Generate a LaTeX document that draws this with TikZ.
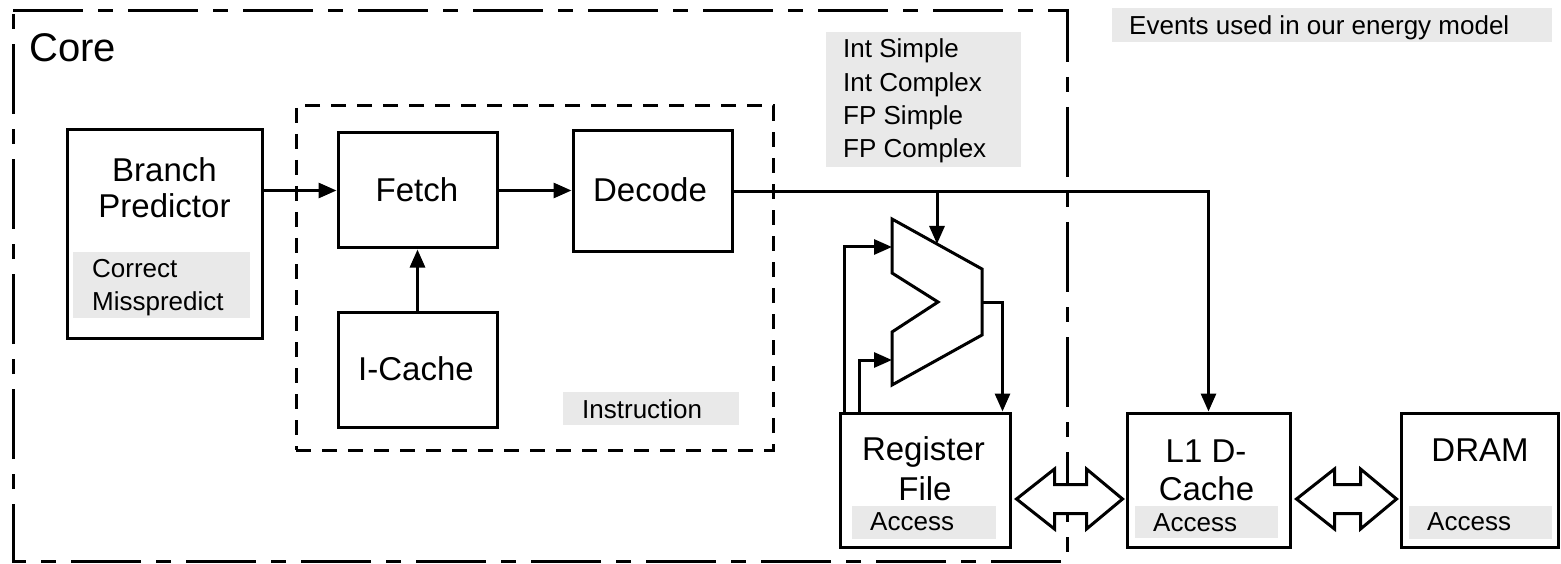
\documentclass[tikz,border=0pt]{standalone}
\usepackage{fontspec}
\setmainfont{Liberation Sans}
\usetikzlibrary{arrows.meta,calc}
\definecolor{evgray}{RGB}{233,233,233}
\newcommand{\mybigfont}{\fontsize{33}{38}\selectfont}
\newcommand{\mysmallfont}{\fontsize{26}{31}\selectfont}
\newcommand{\mycorefont}{\fontsize{40}{46}\selectfont}
\newcommand{\fatarr}[3]{%
  \coordinate (#3-l) at ($(#1.east)+(5,19)$);
  \coordinate (#3-r) at ($(#2.west)+(-3,19)$);
  \draw[fat] (#3-l) -- ++(38,-30) -- ++(0,15.5) -- ($(#3-r)+(-36,-14.5)$) -- ++(0,-15.5)
    -- (#3-r) -- ++(-36,30) -- ++(0,-15.5) -- ($(#3-l)+(38,14.5)$) -- ++(0,15.5) -- cycle;}
\begin{document}
\begin{tikzpicture}[x=1pt,y=-1pt,
  box/.style={draw, line width=3pt, fill=white, inner sep=0pt},
  graybox/.style={fill=evgray, draw=none, inner sep=0pt},
  tb/.style={inner sep=0pt, font=\mybigfont},
  ts/.style={inner sep=0pt, font=\mysmallfont},
  arr/.style={line width=3pt, -{Triangle[length=18pt,width=15pt]}},
  fat/.style={line width=3pt, fill=white, line join=miter},
  coredash/.style={line width=3pt, dash pattern=on 70pt off 15pt on 15pt off 15pt},
  instrdash/.style={draw, line width=3pt, dash pattern=on 15pt off 11pt, inner sep=0pt}]
\useasboundingbox (0,0) rectangle (1561,564);

% Core border
\draw[coredash] (13,11) -- (1067,11) -- (1067,561) -- (13,561) -- cycle;
\node[ts, font=\mycorefont, anchor=base west] (corelbl) at (29,62) {Core};

% Instruction dashed box
\node[instrdash, minimum width=477, minimum height=344] (instr) at (534.5,278) {};

% Event legend
\node[graybox, minimum width=440, minimum height=34] (evg) at (1332,25) {};
\node[ts, anchor=base west] (evt) at (1129,35) {Events used in our energy model};

\node[graybox, minimum width=195, minimum height=135] (aluev) at (923.5,99.5) {};
\node[ts, anchor=base west] (ae1) at (843,58) {Int Simple};
\node[ts, anchor=base west] (ae2) at (843,92) {Int Complex};
\node[ts, anchor=base west] (ae3) at (843,125) {FP Simple};
\node[ts, anchor=base west] (ae4) at (843,158) {FP Complex};

% Boxes
\node[box, minimum width=195, minimum height=208] (bp) at (164.5,234) {};
\node[box, minimum width=159, minimum height=115] (fetch) at (417.5,190.5) {};
\node[box, minimum width=159, minimum height=121] (decode) at (652.5,191.5) {};
\node[box, minimum width=159, minimum height=115] (icache) at (417.5,369.5) {};
\node[box, minimum width=170, minimum height=134] (rf) at (925,480) {};
\node[box, minimum width=163, minimum height=134] (l1) at (1208.5,480) {};
\node[box, minimum width=157, minimum height=134] (dram) at (1479.5,480) {};

% Gray event boxes inside blocks
\node[graybox, minimum width=177, minimum height=66] (bpg) at (161.5,285) {};
\node[graybox, minimum width=176, minimum height=33] (instrg) at (651,408.5) {};
\node[graybox, minimum width=144, minimum height=33] (rfg) at (924,522.5) {};
\node[graybox, minimum width=143, minimum height=32] (l1g) at (1206.5,522) {};
\node[graybox, minimum width=143, minimum height=33] (dramg) at (1480.5,522.5) {};

% Texts
\node[tb, anchor=base] (bpt1) at (164.5,182) {Branch};
\node[tb, anchor=base] (bpt2) at (164.5,218) {Predictor};
\node[ts, anchor=base west] (bpe1) at (92,277) {Correct};
\node[ts, anchor=base west] (bpe2) at (92,310) {Misspredict};
\node[tb, anchor=base] (fetcht) at (417,202) {Fetch};
\node[tb, anchor=base] (decodet) at (650,202) {Decode};
\node[tb, anchor=base] (icachet) at (416,380) {I-Cache};
\node[ts, anchor=base west] (instrt) at (582,418) {Instruction};
\node[tb, anchor=base] (rft1) at (923.5,460) {Register};
\node[tb, anchor=base] (rft2) at (925,500) {File};
\node[ts, anchor=base west] (rfe) at (870,530) {Access};
\node[tb, anchor=base] (l1t1) at (1206,462) {L1 D-};
\node[tb, anchor=base] (l1t2) at (1206.5,500) {Cache};
\node[ts, anchor=base west] (l1e) at (1153,531) {Access};
\node[tb, anchor=base] (dramt) at (1480,461) {DRAM};
\node[ts, anchor=base west] (drame) at (1427,530) {Access};

% ALU shape
\coordinate (alu1) at (892,219);
\coordinate (alu2) at (982,269);
\coordinate (alu3) at (982,335);
\coordinate (alu4) at (892,385);
\coordinate (alu5) at (892,332);
\coordinate (alu6) at (938,302);
\coordinate (alu7) at (892,273);
\draw[line width=3pt, fill=white, line join=miter] (alu1) -- (alu2) -- (alu3) -- (alu4) -- (alu5) -- (alu6) -- (alu7) -- cycle;
\coordinate (aluin1) at (892,247);
\coordinate (aluin2) at (892,360);
\coordinate (aluout) at (982,302);
\coordinate (alutop) at (937,244);

% Connectors
\draw[arr] (fetch.west -| bp.east) -- (fetch.west);
\draw[arr] (fetch.east) -- (fetch.east -| decode.west);
\draw[arr] (icache.north) -- (fetch.south);
\draw[arr] (decode.east) -| (l1.north);
\draw[arr] (decode.east -| alutop) -- (alutop);
\draw[arr] ($(rf.north west)+(6,0)$) |- (aluin1);
\draw[arr] ($(rf.north west)+(21,0)$) |- (aluin2);
\draw[arr] (aluout) -| ($(rf.north east)+(-9,0)$);

% Fat double arrows
\fatarr{rf}{l1}{fa1}
\fatarr{l1}{dram}{fa2}
\end{tikzpicture}
\end{document}
